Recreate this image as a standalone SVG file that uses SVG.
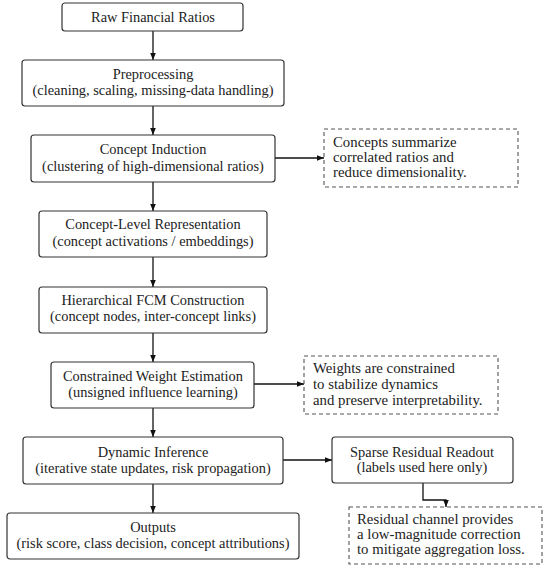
<svg xmlns="http://www.w3.org/2000/svg" width="550" height="573" viewBox="0 0 550 573">
<defs>
<style>
.box{fill:#fff;stroke:#333;stroke-width:1.2}
.note{fill:#fff;stroke:#555;stroke-width:1.1;stroke-dasharray:4,3}
.t{font-family:"Liberation Serif","DejaVu Serif",serif;font-size:14.4px;fill:#222;text-anchor:middle}
.n{font-family:"Liberation Serif","DejaVu Serif",serif;font-size:14.8px;fill:#222}
.c{fill:none;stroke:#111;stroke-width:1.3}
</style>
<marker id="ah" viewBox="0 0 10 10" refX="10" refY="5" markerWidth="7" markerHeight="7" markerUnits="userSpaceOnUse" orient="auto">
<path d="M0,1 L10,5 L0,9 z" fill="#111"/>
</marker>
</defs>
<rect width="550" height="573" fill="#fff"/>
<g id="connectors">
<line class="c" x1="153" y1="31" x2="153" y2="60" marker-end="url(#ah)"/>
<line class="c" x1="153" y1="106" x2="153" y2="135" marker-end="url(#ah)"/>
<line class="c" x1="153" y1="182" x2="153" y2="211" marker-end="url(#ah)"/>
<line class="c" x1="153" y1="257" x2="153" y2="287" marker-end="url(#ah)"/>
<line class="c" x1="153" y1="333" x2="153" y2="362" marker-end="url(#ah)"/>
<line class="c" x1="153" y1="408" x2="153" y2="437" marker-end="url(#ah)"/>
<line class="c" x1="153" y1="484" x2="153" y2="513" marker-end="url(#ah)"/>
<line class="c" x1="275" y1="158" x2="324" y2="158" marker-end="url(#ah)"/>
<line class="c" x1="254" y1="384" x2="304" y2="384" marker-end="url(#ah)"/>
<line class="c" x1="283" y1="460" x2="332" y2="460" marker-end="url(#ah)"/>
<polyline class="c" points="423,483 423,500 446,500 446,507" marker-end="url(#ah)"/>
</g>
<g id="raw"><rect class="box" x="62" y="3" width="181" height="28" rx="3"/><text class="t" x="153" y="22">Raw Financial Ratios</text></g>
<g id="preprocessing"><rect class="box" x="22" y="60" width="262" height="46" rx="3"/><text class="t" x="153" y="79">Preprocessing</text><text class="t" x="153" y="95">(cleaning, scaling, missing-data handling)</text></g>
<g id="induction"><rect class="box" x="31" y="135" width="244" height="47" rx="3"/><text class="t" x="153" y="154">Concept Induction</text><text class="t" x="153" y="171">(clustering of high-dimensional ratios)</text></g>
<g id="representation"><rect class="box" x="39" y="211" width="228" height="46" rx="3"/><text class="t" x="153" y="229">Concept-Level Representation</text><text class="t" x="153" y="246">(concept activations / embeddings)</text></g>
<g id="fcm"><rect class="box" x="39" y="287" width="228" height="46" rx="3"/><text class="t" x="153" y="305">Hierarchical FCM Construction</text><text class="t" x="153" y="321">(concept nodes, inter-concept links)</text></g>
<g id="weights"><rect class="box" x="51" y="362" width="203" height="46" rx="3"/><text class="t" x="153" y="381">Constrained Weight Estimation</text><text class="t" x="153" y="397">(unsigned influence learning)</text></g>
<g id="inference"><rect class="box" x="23" y="437" width="260" height="47" rx="3"/><text class="t" x="153" y="457">Dynamic Inference</text><text class="t" x="153" y="473">(iterative state updates, risk propagation)</text></g>
<g id="outputs"><rect class="box" x="7" y="513" width="292" height="46" rx="3"/><text class="t" x="153" y="532">Outputs</text><text class="t" x="153" y="548">(risk score, class decision, concept attributions)</text></g>
<g id="readout"><rect class="box" x="332" y="437" width="181" height="46" rx="3"/><text class="t" x="422" y="457">Sparse Residual Readout</text><text class="t" x="422" y="472">(labels used here only)</text></g>
<g id="note-concepts"><rect class="note" x="324" y="129" width="194" height="58"/><text class="n" x="333" y="147">Concepts summarize</text><text class="n" x="333" y="162">correlated ratios and</text><text class="n" x="333" y="177">reduce dimensionality.</text></g>
<g id="note-weights"><rect class="note" x="304" y="356" width="194" height="58"/><text class="n" x="313" y="373">Weights are constrained</text><text class="n" x="313" y="389">to stabilize dynamics</text><text class="n" x="313" y="405">and preserve interpretability.</text></g>
<g id="note-residual"><rect class="note" x="349" y="507" width="193" height="57"/><text class="n" x="357" y="524">Residual channel provides</text><text class="n" x="357" y="539">a low-magnitude correction</text><text class="n" x="357" y="554">to mitigate aggregation loss.</text></g>
</svg>
